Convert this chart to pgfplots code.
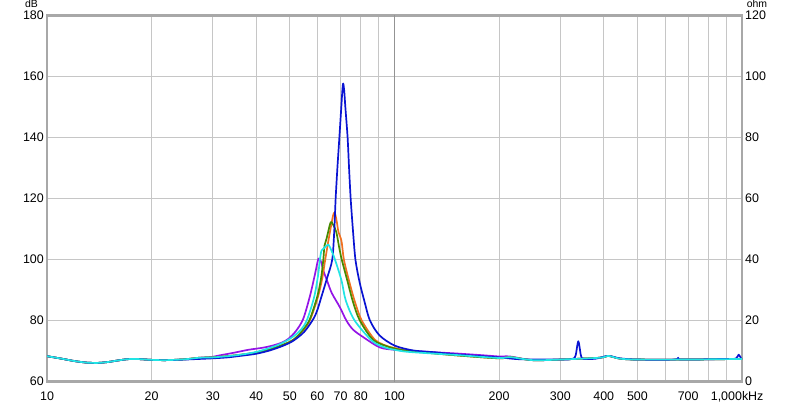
\documentclass[border=0pt]{standalone}
\usepackage{pgfplots}
\pgfplotsset{compat=1.18}
\usepackage{fontspec}
\setmainfont{Liberation Sans}
\definecolor{cblue}{HTML}{0A14D2}
\definecolor{cpurple}{HTML}{9414E6}
\definecolor{corange}{HTML}{F07020}
\definecolor{cgreen}{HTML}{468A00}
\definecolor{ccyan}{HTML}{22E4E4}
\definecolor{frame}{HTML}{A8A8A8}
\definecolor{gridc}{HTML}{C6C6C6}
\begin{document}
\fontsize{12.5}{14}\selectfont
\begin{tikzpicture}[x=1bp,y=1bp]
\path[use as bounding box] (0,0) rectangle (800,403);
\begin{axis}[
  at={(47bp,21.5bp)}, anchor=south west,
  scale only axis, width=695bp, height=366bp,
  xmode=log, xmin=10, xmax=1000, ymin=60, ymax=180,
  log basis x=10,
  xtick={10,20,30,40,50,60,70,80,90,100,200,300,400,500,600,700,800,900,1000},
  xticklabels={10,20,30,40,50,60,70,80,,100,200,300,400,500,,700,,,\llap{1,000}\rlap{kHz}},
  ytick={60,80,100,120,140,160,180},
  grid=major,
  major grid style={gridc, line width=0.8bp},
  axis line style={frame, line width=2.2bp},
  tick style={draw=none},
  /pgf/number format/assume math mode=true,
  ticklabel style={font=\fontsize{12.5}{14}\selectfont, text=black, inner sep=1bp},
  xticklabel style={yshift=-9bp},
  yticklabel style={xshift=-2bp},
  clip=true,
  every axis plot/.append style={line width=1.7bp, line join=round, smooth, tension=0.5},
]
\draw[gray!85, line width=0.9bp] (axis cs:100,60) -- (axis cs:100,180);
% purple
\addplot[cpurple] coordinates {
(10,68.3)(11,67.5)(12,66.7)(13,66.2)(14,66.1)(15,66.4)(16,66.9)(17,67.3)(18,67.4)(20,67.1)(22,67.0)(25,67.3)(27.5,67.8)(30,68.1)(31.5,68.6)(34.4,69.4)(38,70.4)(41.9,71.1)(45,71.9)(47.5,72.8)(49.5,74.0)(52,76.5)(54.6,80.5)(57.1,88)(59,95)(60.4,100.2)(61.5,99.2)(62.4,96.4)(64,93)(66,89)(69.6,84.4)(72.7,80)(76,77)(81.4,74.5)(90.6,71.2)(100,70.4)(110,70.1)(130,69.6)(150,69.2)(180,68.6)(200,68.2)(215,68.2)(250,67.0)(300,67.2)(390,67.8)(412,68.4)(445,67.5)(500,67.2)(700,67.2)(1000,67.4)};
% orange
\addplot[corange] coordinates {
(10,68.3)(11,67.5)(12,66.7)(13,66.2)(14,66.1)(15,66.4)(16,66.9)(17,67.3)(18,67.4)(20,67.1)(22,67.0)(25,67.3)(27.5,67.8)(30,67.9)(35,68.6)(40,69.5)(45,71.0)(50,73.0)(52.3,74.6)(55,77.2)(57.3,80.5)(60.3,88)(62,94)(63.2,100)(64.5,106)(65.8,111.5)(66.6,114.5)(67.1,115.3)(67.6,114.6)(68.2,112.5)(69,109)(70.4,106)(71.5,100)(74,93)(77,86)(80.5,80)(88,73.6)(97,71.3)(100,71.0)(110,70.1)(150,68.6)(200,67.6)(215,68.0)(250,67.0)(300,67.2)(390,67.8)(412,68.4)(445,67.5)(500,67.2)(700,67.2)(1000,67.4)};
% green
\addplot[cgreen] coordinates {
(10,68.3)(11,67.5)(12,66.7)(13,66.2)(14,66.1)(15,66.4)(16,66.9)(17,67.3)(18,67.4)(20,67.1)(22,67.0)(25,67.3)(27.5,67.8)(30,67.9)(35,68.6)(40,69.5)(45,71.0)(50,73.0)(52.3,74.6)(55,77.5)(57.1,80.5)(60,88)(61.5,94)(62.4,100)(62.9,104.6)(63.8,107)(65.5,112.2)(66.5,111.5)(68,109)(69.3,104)(70.5,100)(73.2,93)(76,86)(79.5,80)(86.9,73.6)(97,71.2)(100,70.8)(110,70.0)(150,68.6)(200,67.6)(215,68.0)(250,67.0)(300,67.2)(390,67.8)(412,68.4)(445,67.5)(500,67.2)(700,67.2)(1000,67.4)};
% blue
\addplot[cblue] coordinates {
(10,68.3)(11,67.5)(12,66.7)(13,66.2)(14,66.1)(15,66.4)(16,66.9)(17,67.3)(18,67.4)(20,67.1)(22,67.0)(25,67.2)(30,67.6)(33,67.9)(36,68.4)(40,69.1)(43.8,70.2)(48,71.8)(51.2,73.4)(55,76.3)(58.4,80.5)(60,83.5)(61.7,88)(64,94)(66.2,100)(67.1,109.5)(67.7,119.9)(68.5,130)(69.4,140)(70.3,150)(70.8,155.5)(71.2,157.7)(71.7,155)(72.2,150)(73.3,140)(74,130)(74.8,120)(76,109)(77.2,100)(79.2,93)(81.8,86.6)(85,80)(90.6,75.1)(100,71.8)(113,70.2)(130,69.6)(150,68.9)(200,67.9)(230,67.3)(300,67.2)(325,67.4)(332,68.5)(338,73.2)(344,68.5)(350,67.4)(380,67.5)(412,68.4)(445,67.6)(500,67.2)(640,67.2)(655,67.8)(670,67.2)(900,67.4)(960,67.5)(978,68.8)(995,67.5)(1000,67.5)};
% cyan
\addplot[ccyan] coordinates {
(10,68.3)(11,67.5)(12,66.7)(13,66.2)(14,66.1)(15,66.4)(16,66.9)(17,67.3)(18,67.4)(20,67.1)(22,67.0)(25,67.3)(27.5,67.8)(30,67.9)(35,68.6)(40,69.7)(45.8,71.8)(50,74.0)(53.5,76.7)(55.9,80)(58.7,87.6)(60.3,95)(61,100)(61.7,103)(62.8,103.8)(64.5,104.9)(65.8,103)(67.4,100)(70.4,93.1)(72.4,86.6)(76.8,80)(86,73.4)(93.5,71.2)(100,70.4)(110,69.7)(150,68.7)(200,67.7)(215,68.0)(250,67.0)(300,67.2)(390,67.8)(412,68.4)(445,67.5)(500,67.2)(700,67.2)(1000,67.4)};
\end{axis}
\begin{axis}[
  at={(47bp,21.5bp)}, anchor=south west,
  scale only axis, width=695bp, height=366bp,
  xmin=0, xmax=1, ymin=0, ymax=120,
  axis x line=none, axis y line*=right,
  axis line style={draw=none},
  ytick={0,20,40,60,80,100,120},
  tick style={draw=none},
  /pgf/number format/assume math mode=true,
  ticklabel style={font=\fontsize{12.5}{14}\selectfont, text=black, inner sep=1bp},
  yticklabel style={xshift=2bp},
]
\end{axis}
\node[anchor=north, inner sep=0pt, font=\fontsize{10.5}{12}\selectfont] at (31.5,403) {dB};
\node[anchor=north, inner sep=0pt, font=\fontsize{10.5}{12}\selectfont] at (757,403) {ohm};
\end{tikzpicture}
\end{document}
